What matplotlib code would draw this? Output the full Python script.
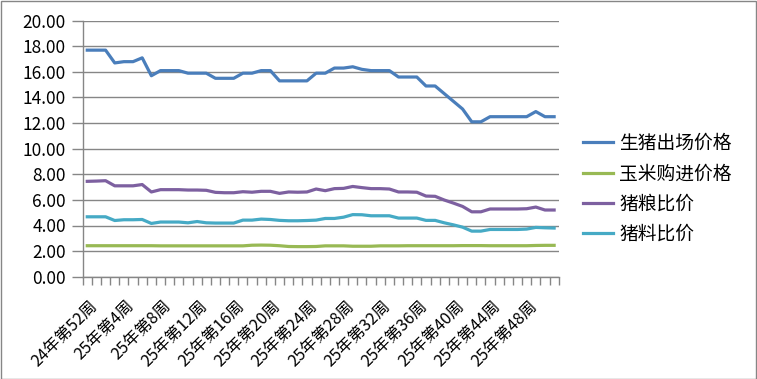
import numpy as np
import matplotlib
matplotlib.use("Agg")
import matplotlib.pyplot as plt
from matplotlib import transforms

plt.rcParams['font.family'] = ['Noto Sans CJK SC', 'DejaVu Sans']

# weeks: 24年第52周, then 25年第1周 .. 25年第51周
weeks = ["24年第52周"] + ["25年第%d周" % w for w in range(1, 52)]

hog_price = [17.7, 17.7, 17.7, 16.7, 16.8, 16.8, 17.1, 15.7, 16.1, 16.1,
             16.1, 15.9, 15.9, 15.9, 15.5, 15.5, 15.5, 15.9, 15.9, 16.1,
             16.1, 15.3, 15.3, 15.3, 15.3, 15.9, 15.9, 16.3, 16.3, 16.4,
             16.2, 16.1, 16.1, 16.1, 15.6, 15.6, 15.6, 14.9, 14.9, 14.3,
             13.7, 13.1, 12.1, 12.1, 12.5, 12.5, 12.5, 12.5, 12.5, 12.9,
             12.5, 12.5]
corn_price = [2.42, 2.42, 2.42, 2.42, 2.42, 2.42, 2.42, 2.42, 2.41, 2.41,
              2.41, 2.41, 2.41, 2.41, 2.41, 2.41, 2.41, 2.41, 2.46, 2.47,
              2.46, 2.42, 2.36, 2.35, 2.35, 2.36, 2.41, 2.41, 2.41, 2.38,
              2.38, 2.38, 2.41, 2.41, 2.41, 2.42, 2.42, 2.42, 2.42, 2.42,
              2.42, 2.43, 2.43, 2.43, 2.42, 2.42, 2.42, 2.42, 2.42, 2.44,
              2.45, 2.45]
hog_grain = [7.45, 7.47, 7.5, 7.1, 7.1, 7.1, 7.2, 6.62, 6.8, 6.8,
             6.8, 6.77, 6.77, 6.75, 6.59, 6.56, 6.56, 6.64, 6.6, 6.67,
             6.67, 6.51, 6.62, 6.6, 6.62, 6.85, 6.72, 6.88, 6.9, 7.05,
             6.96, 6.88, 6.88, 6.85, 6.62, 6.62, 6.6, 6.3, 6.28, 5.99,
             5.75, 5.49, 5.07, 5.07, 5.29, 5.29, 5.29, 5.29, 5.31, 5.44,
             5.21, 5.21]
hog_feed = [4.68, 4.68, 4.68, 4.39, 4.45, 4.45, 4.47, 4.16, 4.27, 4.27,
            4.27, 4.21, 4.31, 4.21, 4.19, 4.19, 4.19, 4.42, 4.42, 4.5,
            4.47, 4.4, 4.37, 4.37, 4.39, 4.42, 4.55, 4.55, 4.65, 4.85,
            4.84, 4.76, 4.76, 4.76, 4.58, 4.58, 4.58, 4.4, 4.4, 4.21,
            4.05, 3.87, 3.56, 3.56, 3.69, 3.69, 3.69, 3.69, 3.72, 3.85,
            3.82, 3.8]

series = [("生猪出场价格", hog_price, "#4A7EBB"),
          ("玉米购进价格", corn_price, "#98B954"),
          ("猪粮比价", hog_grain, "#7D60A0"),
          ("猪料比价", hog_feed, "#46AAC5")]

W, H = 757, 379
fig = plt.figure(figsize=(W / 100, H / 100), dpi=100)
fig.patches.append(plt.Rectangle((0.5 / W, 0.5 / H), 1 - 1.5 / W, 1 - 1.5 / H,
                                 transform=fig.transFigure, fill=False,
                                 edgecolor="#868686", linewidth=1))

left, right, top, bottom = 82.7, 558.7, 20.7, 276.7
ax = fig.add_axes([left / W, 1 - bottom / H, (right - left) / W, (bottom - top) / H])

x = np.arange(len(weeks))
for name, vals, col in series:
    ax.plot(x, vals, color=col, linewidth=2.3, label=name, solid_joinstyle="round")

ax.set_xlim(-0.5, len(weeks) - 0.5)
ax.set_ylim(0, 20)
ax.set_yticks(np.arange(0, 21, 2))
ax.set_yticklabels(["%.2f" % v for v in np.arange(0, 21, 2)], fontsize=12.5)
ax.yaxis.grid(True, color="#868686", linewidth=1)
ax.set_axisbelow(True)

# category boundaries as tick marks, labels every 4 weeks
ax.set_xticks(np.arange(-0.5, len(weeks), 1))
ax.set_xticklabels([])
lab_idx = list(range(0, len(weeks), 4))
ax.set_xticks(lab_idx, minor=True)
ax.set_xticklabels([weeks[i] for i in lab_idx], minor=True, rotation=45,
                   ha="right", va="center", rotation_mode="anchor", fontsize=11.8)
ax.tick_params(axis="x", which="minor", length=0, pad=19)
ax.tick_params(axis="x", which="major", length=6, color="#868686", width=1)
ax.tick_params(axis="y", length=8, color="#868686", width=1, pad=4)
offset = transforms.ScaledTranslation(8 / 100, 0, fig.dpi_scale_trans)
for lbl in ax.get_xticklabels(minor=True):
    lbl.set_transform(lbl.get_transform() + offset)

for s in ["top", "right"]:
    ax.spines[s].set_visible(False)
for s in ["left", "bottom"]:
    ax.spines[s].set_color("#868686")
    ax.spines[s].set_linewidth(1)

ax.legend(loc="upper left", bbox_to_anchor=(566 / W, 1 - 116 / H),
          bbox_transform=fig.transFigure, frameon=False, fontsize=13.5,
          handlelength=1.6, handletextpad=0.35, labelspacing=0.5)

fig.savefig("out.png", dpi=100)
